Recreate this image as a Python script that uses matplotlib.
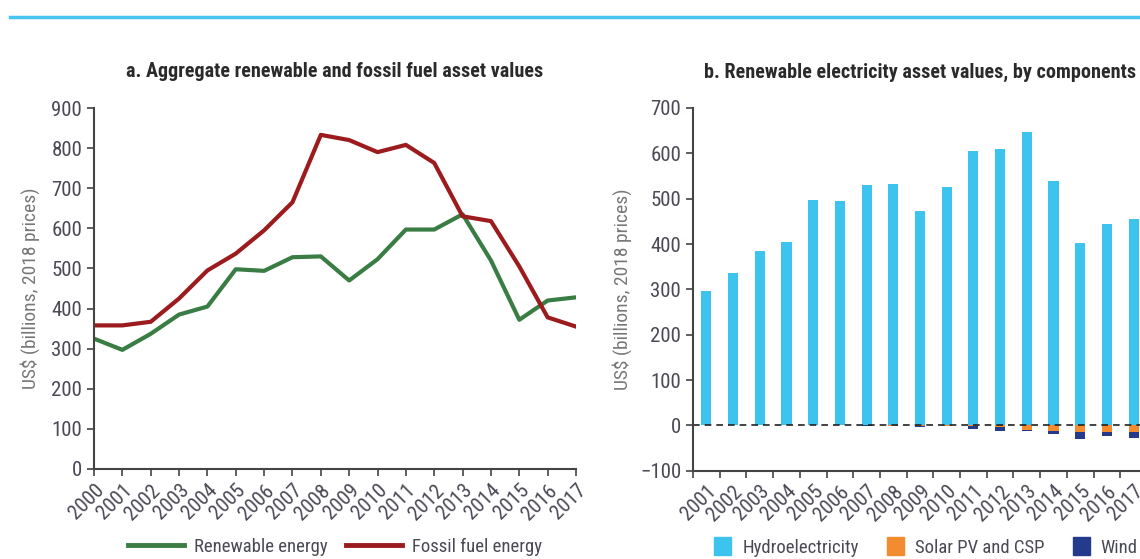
import matplotlib
matplotlib.use("Agg")
import matplotlib.pyplot as plt
import numpy as np
from matplotlib.lines import Line2D
from matplotlib.patches import Patch
from matplotlib import font_manager as fm

years_a = list(range(2000, 2018))
renewable = [325, 297, 337, 385, 405, 498, 494, 528, 530, 470, 523, 597, 597, 635, 520, 372, 420, 428]
fossil = [358, 358, 367, 425, 495, 537, 595, 665, 833, 820, 790, 808, 763, 630, 618, 505, 378, 355]

years_b = list(range(2001, 2018))
hydro = [297, 335, 385, 405, 498, 494, 530, 533, 472, 525, 605, 609, 648, 540, 402, 445, 455]
solar = [0, 0, 0, 0, 0, 0, 0, -0.5, -1, -1, -2, -4, -10, -12, -14, -14, -14]
wind = [0, 0, 0, 0, 0, 0, -1, -2, -2, -1, -6, -9, -2, -8, -17, -10, -13]

available = {f.name for f in fm.fontManager.ttflist}
candidates = ['Liberation Sans Narrow', 'Arial Narrow', 'Roboto Condensed', 'PT Sans Narrow',
              'Archivo Narrow', 'Open Sans Condensed', 'DejaVu Sans']
main_font = next(c for c in candidates if c in available)
plt.rcParams['font.family'] = [main_font, 'DejaVu Sans']

TXT = '#4a4a55'
AX = '#444444'
C_GREEN = '#3a7d44'
C_RED = '#9b1b1e'
C_HYDRO = '#3cc3ee'
C_SOLAR = '#f28c2e'
C_WIND = '#243a8c'

fig = plt.figure(figsize=(11.4, 5.59), dpi=100)

# top rule
fig.add_artist(Line2D([10/1140, 1.0], [1-17/559, 1-17/559], color='#49c6ee', lw=2.5,
                      transform=fig.transFigure))

def style(ax):
    for s in ['top', 'right']:
        ax.spines[s].set_visible(False)
    for s in ['left', 'bottom']:
        ax.spines[s].set_color(AX)
        ax.spines[s].set_linewidth(1.5)
    ax.tick_params(axis='both', colors=AX, labelcolor=TXT, labelsize=15, width=1.2, length=5)

# Panel a
axa = fig.add_axes([94/1140, 1-469/559, 482/1140, 361/559])
axa.plot(years_a, renewable, color=C_GREEN, lw=3)
axa.plot(years_a, fossil, color=C_RED, lw=3)
axa.set_xlim(2000, 2017)
axa.set_ylim(0, 900)
axa.set_yticks(np.arange(0, 901, 100))
axa.set_xticks(years_a)
axa.set_xticklabels([str(y) for y in years_a], rotation=45, ha='right', rotation_mode='anchor')
style(axa)
axa.set_ylabel('US$ (billions, 2018 prices)', color='#777777', fontsize=14, labelpad=8)
axa.set_title('a. Aggregate renewable and fossil fuel asset values', fontsize=14.5,
              fontweight='bold', color='#2a2a2a', pad=22)

# Panel b
axb = fig.add_axes([693/1140, 1-470.7/559, 454/1140, (470.7-108)/559])
x = np.arange(len(years_b))
w = 0.38
axb.bar(x, hydro, width=w, color=C_HYDRO)
axb.bar(x, solar, width=w, color=C_SOLAR)
axb.bar(x, wind, width=w, bottom=solar, color=C_WIND)
axb.axhline(0, color='#222222', lw=1.2, ls=(0, (4, 3)))
axb.set_xlim(-0.5, len(years_b) - 0.5)
axb.set_ylim(-100, 700)
axb.set_yticks(np.arange(-100, 701, 100))
axb.set_yticklabels(['\u2212100'] + [str(v) for v in range(0, 701, 100)])
axb.set_xticks(x)
axb.set_xticklabels([str(y) for y in years_b], rotation=45, ha='right', rotation_mode='anchor')
axb.set_xticks(np.arange(-0.5, len(years_b), 1), minor=True)
style(axb)
axb.tick_params(axis='x', which='major', length=0, pad=8)
axb.tick_params(axis='x', which='minor', length=5, width=1.2, color=AX)
axb.set_ylabel('US$ (billions, 2018 prices)', color='#777777', fontsize=14, labelpad=6)
axb.set_title('b. Renewable electricity asset values, by components', fontsize=14.5,
              fontweight='bold', color='#2a2a2a', pad=22)

# Legends
h_a = [Line2D([], [], color=C_GREEN, lw=3.5), Line2D([], [], color=C_RED, lw=3.5)]
fig.legend(h_a, ['Renewable energy', 'Fossil fuel energy'], loc='center',
           bbox_to_anchor=(335/1140, 1-547/559), ncol=2, frameon=False, fontsize=13.5,
           labelcolor=TXT, handlelength=3.0, columnspacing=1.0, handletextpad=0.5)
h_b = [Patch(color=C_HYDRO), Patch(color=C_SOLAR), Patch(color=C_WIND)]
fig.legend(h_b, ['Hydroelectricity', 'Solar PV and CSP', 'Wind'], loc='center',
           bbox_to_anchor=(926/1140, 1-547/559), ncol=3, frameon=False, fontsize=13.5,
           labelcolor=TXT, handlelength=0.9, handleheight=1.1, columnspacing=1.5,
           handletextpad=0.6)

fig.savefig('out.png', dpi=100)
